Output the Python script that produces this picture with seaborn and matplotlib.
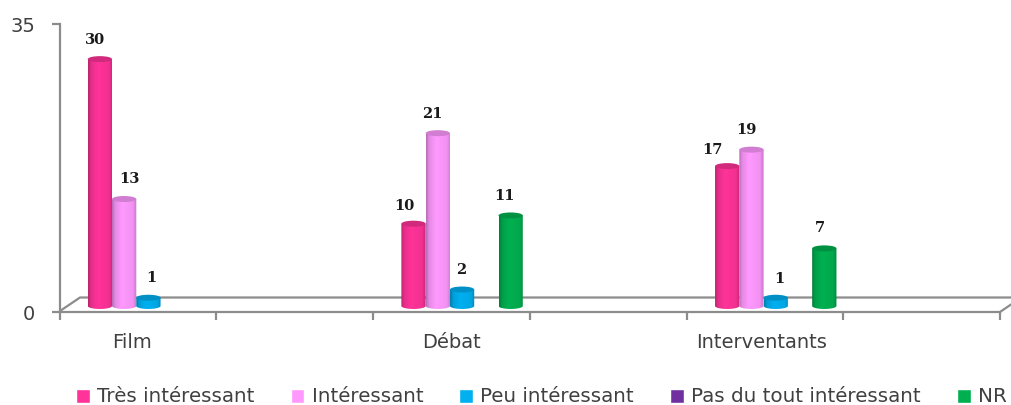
import numpy as np
import pandas as pd
import seaborn as sns
import matplotlib.pyplot as plt
from matplotlib.lines import Line2D
from matplotlib.patches import Ellipse, Polygon
from matplotlib.colors import to_rgb

categories = ["Film", "Débat", "Interventants"]
# the original chart leaves an empty slot after each category
slots = ["Film", " ", "Débat", "  ", "Interventants", "   "]
series = ["Très intéressant", "Intéressant", "Peu intéressant", "Pas du tout intéressant", "NR"]
tres = [30, 10, 17]
interessant = [13, 21, 19]
peu = [1, 2, 1]
pas_du_tout = [0, 0, 0]
nr = [0, 11, 7]
colors = ["#FF3399", "#FF99FF", "#00B0F0", "#7030A0", "#00B050"]
yticks = [0, 35]

W, H = 1011, 405
GREY = "#8c8c8c"
TEXT = "#404040"

sns.set_theme(style="white")
plt.rcParams["font.family"] = ["DejaVu Sans"]

rows = []
for name, values in zip(series, [tres, interessant, peu, pas_du_tout, nr]):
    for cat, v in zip(categories, values):
        rows.append({"categorie": cat, "reponse": name, "valeur": v})
df = pd.DataFrame(rows)


def box(left, right, top, bottom):
    return [left / W, 1 - bottom / H, (right - left) / W, (bottom - top) / H]


def px(x, y):
    return x / W, 1 - y / H


fig = plt.figure(figsize=(W / 100, H / 100), dpi=100)

# front frame of the fake 3d chart
frame = fig.add_axes(box(59.5, 1000, 24, 312))
frame.set_xlim(-0.5, 5.5)
frame.set_ylim(0, 35)
frame.patch.set_visible(False)
sns.despine(ax=frame)
for side in ["left", "bottom"]:
    frame.spines[side].set_color(GREY)
    frame.spines[side].set_linewidth(1.6)
frame.set_yticks(yticks)
frame.set_yticklabels([str(t) for t in yticks], fontsize=14, color=TEXT)
frame.set_xticks(np.arange(7) - 0.5)
frame.set_xticklabels([])
frame.set_xticks([-0.04, 2, 3.98], minor=True)
frame.set_xticklabels(categories, minor=True, fontsize=14, color=TEXT)
frame.tick_params(axis="both", which="major", length=6, width=1.6, color=GREY, left=True, bottom=True)
frame.tick_params(axis="x", which="minor", length=0, pad=15)
frame.tick_params(axis="y", pad=11.6)

# floor of the chart
for xs, ys in [((60, 80, 1011), (311, 297.5, 297.5)), ((1000, 1011), (312, 304.5))]:
    xf, yf = zip(*[px(a, b) for a, b in zip(xs, ys)])
    fig.add_artist(Line2D(xf, yf, color=GREY, lw=1.6, zorder=0))

# bars sit slightly behind the front frame
ax = fig.add_axes(box(70, 1011, 18, 314.2))
ax.patch.set_visible(False)
sns.barplot(
    data=df,
    x="categorie",
    y="valeur",
    hue="reponse",
    order=slots,
    hue_order=series,
    palette=colors,
    width=0.774,
    gap=0,
    saturation=1,
    errorbar=None,
    ax=ax,
)
ax.set_xlim(-0.5, 5.5)
ax.set_ylim(-1, 35)
ax.set_xlabel("")
ax.set_ylabel("")
ax.set_xticks([])
ax.set_yticks([])
sns.despine(ax=ax, left=True, bottom=True)

ell_h = 6 / 296.2 * 36
bars = sorted([b for b in ax.patches if b.get_height() > 0], key=lambda b: b.get_x())
# label shifts in pixels, same order as the bars
label_dx = [-5, 5, 3, -9, -5, -1, -6, -15, -5, 4, -4]
label_dy = [19, 20, 20, 18, 19, 20, 19, 16, 20, 19, 20]

for bar, dx, dy in zip(bars, label_dx, label_dy):
    x0, w, h = bar.get_x(), bar.get_width(), bar.get_height()
    base = np.array(to_rgb(bar.get_facecolor()))
    pos = np.linspace(0, 1, 40)
    shade = np.interp(pos, [0, 0.12, 0.4, 0.85, 1], [0.72, 0.9, 1.0, 0.95, 0.78])
    grad = np.clip(base[None, None, :] * shade[None, :, None], 0, 1)
    ang = np.linspace(np.pi, 2 * np.pi, 30)
    outline = np.column_stack([x0 + w / 2 + w / 2 * np.cos(ang), ell_h / 2 * np.sin(ang)])
    outline = np.vstack([outline, [x0 + w, h], [x0, h]])
    clip = Polygon(outline, transform=ax.transData, facecolor="none", edgecolor="none")
    ax.add_patch(clip)
    im = ax.imshow(grad, extent=(x0, x0 + w, -ell_h, h), aspect="auto", interpolation="bilinear", zorder=3)
    im.set_clip_path(clip)
    ax.add_patch(Ellipse((x0 + w / 2, h), w, ell_h, facecolor=base * 0.82, edgecolor="none", zorder=4))
    ax.annotate(
        str(int(h)),
        xy=(x0 + w / 2, h),
        xytext=(dx * 0.72, dy * 0.72),
        textcoords="offset points",
        ha="center",
        va="center",
        fontsize=10.5,
        fontweight="bold",
        family="DejaVu Serif",
        color="#1a1a1a",
        zorder=5,
    )
    bar.set_visible(False)

ax.set_xlim(-0.5, 5.5)
ax.set_ylim(-1, 35)

sns.move_legend(
    ax,
    "center left",
    bbox_to_anchor=px(76, 397),
    bbox_transform=fig.transFigure,
    ncol=5,
    title=None,
    frameon=False,
    fontsize=14.3,
    handlelength=0.7,
    handleheight=0.7,
    handletextpad=0.36,
    columnspacing=1.82,
    borderpad=0,
    borderaxespad=0,
)
for t in ax.get_legend().get_texts():
    t.set_color(TEXT)

fig.savefig("out.png", dpi=100)
